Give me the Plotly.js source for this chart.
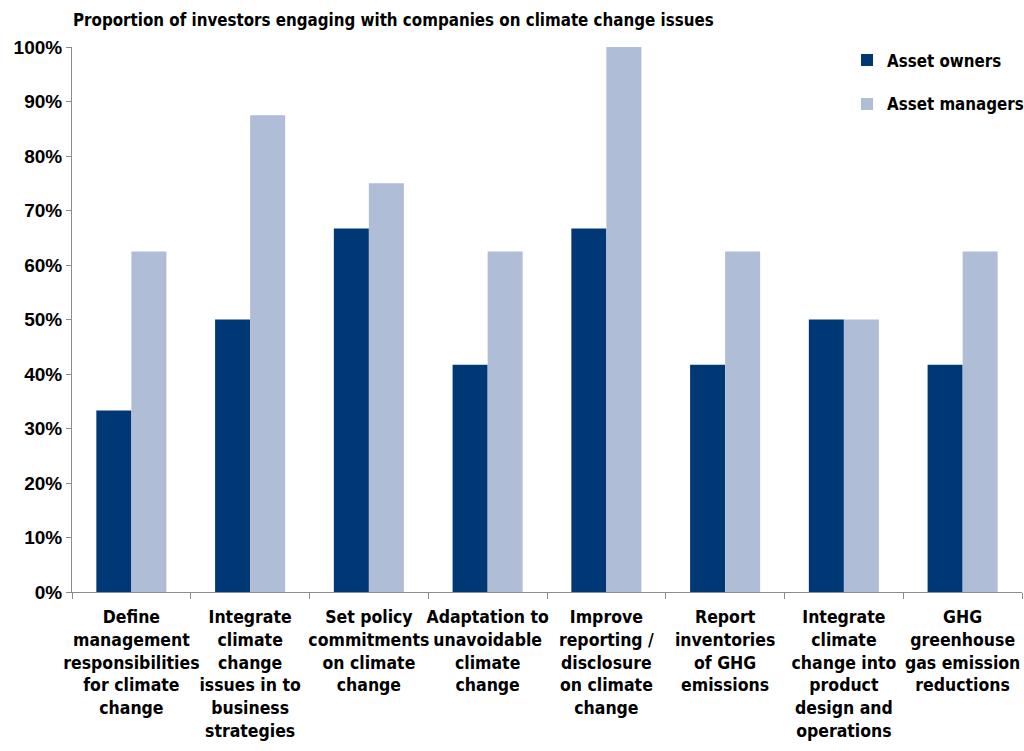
<!DOCTYPE html>
<html>
<head>
<meta charset="utf-8">
<script src="https://cdn.plot.ly/plotly-3.0.1.min.js"></script>
<style>html,body{margin:0;padding:0;background:#fff;}#chart{width:1024px;height:751px;}</style>
</head>
<body>
<div id="chart"></div>
<script>
const categories = [
  "Define<br>management<br>responsibilities<br>for climate<br>change",
  "Integrate<br>climate<br>change<br>issues in to<br>business<br>strategies",
  "Set policy<br>commitments<br>on climate<br>change",
  "Adaptation to<br>unavoidable<br>climate<br>change",
  "Improve<br>reporting /<br>disclosure<br>on climate<br>change",
  "Report<br>inventories<br>of GHG<br>emissions",
  "Integrate<br>climate<br>change into<br>product<br>design and<br>operations",
  "GHG<br>greenhouse<br>gas emission<br>reductions"
];
const assetOwners = [33.3, 50, 66.7, 41.7, 66.7, 41.7, 50, 41.7];
const assetManagers = [62.5, 87.5, 75, 62.5, 100, 62.5, 50, 62.5];
const seriesNames = ["Asset owners", "Asset managers"];
const yTickVals = [0,10,20,30,40,50,60,70,80,90,100];
const yTickText = ["0%","10%","20%","30%","40%","50%","60%","70%","80%","90%","100%"];

const narrow = "'DejaVu Sans Condensed', 'Liberation Sans Narrow', sans-serif";
const wide = "'Liberation Sans', Arial, sans-serif";

const data = [
  {type:"bar", name:seriesNames[0], x:categories, y:assetOwners, marker:{color:"#003876"}, legendgroup:"a", hoverinfo:"y"},
  {type:"bar", name:seriesNames[1], x:categories, y:assetManagers, marker:{color:"#AFBDD7"}, legendgroup:"b", hoverinfo:"y"}
];

const layout = {
  width:1024, height:751,
  margin:{l:72, r:2, t:47, b:159, autoexpand:false},
  paper_bgcolor:"#fff", plot_bgcolor:"#fff",
  barmode:"group", bargap:0.41, bargroupgap:0,
  title:{text:"Proportion of investors engaging with companies on climate change issues",
    font:{family:narrow, size:16.8, color:"#000", weight:"bold"},
    x:73/1024, xanchor:"left", y:1-20/751, yanchor:"middle", xref:"container", yref:"container"},
  xaxis:{
    showline:true, linecolor:"#8c8c8c", linewidth:1,
    ticks:"outside", tickson:"boundaries", ticklen:6, tickcolor:"#8c8c8c",
    ticklabelstandoff:9,
    tickfont:{family:narrow, size:17.5, color:"#000", weight:"bold"},
    tickangle:0, showgrid:false, zeroline:false, fixedrange:true
  },
  yaxis:{
    range:[0,100], tickvals:yTickVals, ticktext:yTickText,
    showline:true, linecolor:"#8c8c8c", linewidth:1,
    ticks:"outside", ticklen:5, tickcolor:"#8c8c8c",
    tickfont:{family:wide, size:19, color:"#000", weight:"bold"},
    showgrid:false, zeroline:false, fixedrange:true
  },
  showlegend:true,
  legend:{x:(847-72)/950, xanchor:"left", y:1.008, yanchor:"top",
    font:{family:narrow, size:16.8, color:"#000", weight:"bold"},
    traceorder:"grouped", tracegroupgap:19, bgcolor:"rgba(0,0,0,0)"}
};
Plotly.newPlot("chart", data, layout, {displayModeBar:false, staticPlot:true});
</script>
</body>
</html>
